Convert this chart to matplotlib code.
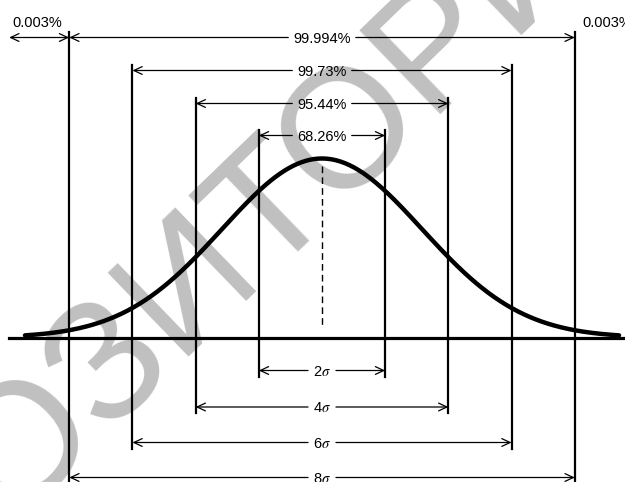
import numpy as np
import matplotlib
matplotlib.use("Agg")
import matplotlib.pyplot as plt

# what the picture shows
sigma_steps = [1, 2, 3, 4]
coverage_labels = ["68.26%", "95.44%", "99.73%", "99.994%"]
width_labels = ["2$\\sigma$", "4$\\sigma$", "6$\\sigma$", "8$\\sigma$"]
tail_label = "0.003%"
curve_sd = 1.58        # drawn bell is wider than the marked sigma
curve_peak = 179.0
curve_span = 4.7
watermark = "РЕПОЗИТОРИЙ"

plt.rcParams["font.family"] = ["Liberation Sans", "DejaVu Sans"]
plt.rcParams["mathtext.fontset"] = "stix"

# layout in picture pixels
W, H = 625, 482
cx, sig_px, base_px = 322.0, 63.2, 337.5
top_rows = [202, 234, 267, 300]
bottom_rows = [-33, -69.5, -105, -140]
fs = 10.5

fig = plt.figure(figsize=(W / 100, H / 100), dpi=100)
ax = fig.add_axes([0, 0, 1, 1])
ax.set_xlim(-cx / sig_px, (W - cx) / sig_px)
ax.set_ylim(-(H - base_px), base_px)
ax.axis("off")

ax.text(190 / W, 1 - 282 / H, watermark, transform=ax.transAxes,
        fontsize=122, color="#c0c0c0", rotation=44, ha="center", va="center",
        rotation_mode="anchor", zorder=0)

# bell curve and baseline
xs = np.linspace(-curve_span, curve_span, 400)
ax.plot(xs, curve_peak * np.exp(-xs ** 2 / (2 * curve_sd ** 2)), color="black",
        lw=3.2, solid_capstyle="round", zorder=3)
ax.plot([-4.95, 5.0], [0, 0], color="black", lw=2.3, zorder=3)
ax.plot([0, 0], [172, 10], color="black", lw=1.0, dashes=(4.8, 3.0), zorder=3)

# vertical sigma lines
for k, yt, yb in zip(sigma_steps, top_rows, bottom_rows):
    for s in (-1, 1):
        ax.plot([s * k, s * k], [yt + 6, yb - 6], color="black", lw=1.6, zorder=3)

arrow = dict(arrowstyle="->,head_length=0.6,head_width=0.28", lw=0.9,
             color="black", shrinkA=0, shrinkB=0)

texts = []
for k, lab, y in zip(sigma_steps, coverage_labels, top_rows):
    texts.append((k, y, ax.text(0, y - 5.5, lab, ha="center", va="baseline", fontsize=fs)))
for k, lab, y in zip(sigma_steps, width_labels, bottom_rows):
    texts.append((k, y, ax.text(0, y - 5.5, lab, ha="center", va="baseline", fontsize=fs)))

fig.canvas.draw()
rend = fig.canvas.get_renderer()
inv = ax.transData.inverted()
gap = 5 / sig_px
for k, y, t in texts:
    bb = t.get_window_extent(rend).transformed(inv)
    ax.annotate("", xy=(-k, y), xytext=(bb.x0 - gap, y), arrowprops=arrow)
    ax.annotate("", xy=(k, y), xytext=(bb.x1 + gap, y), arrowprops=arrow)

# tails beyond 4 sigma
ty = top_rows[-1]
for s in (-1, 1):
    ax.annotate("", xy=(s * 4.95, ty), xytext=(s * 4, ty),
                arrowprops=dict(arrow, arrowstyle="<->,head_length=0.6,head_width=0.28"))
    ax.text(s * 4.506, base_px - 23, tail_label, ha="center", va="center", fontsize=fs)

fig.savefig("out.png", dpi=100)
